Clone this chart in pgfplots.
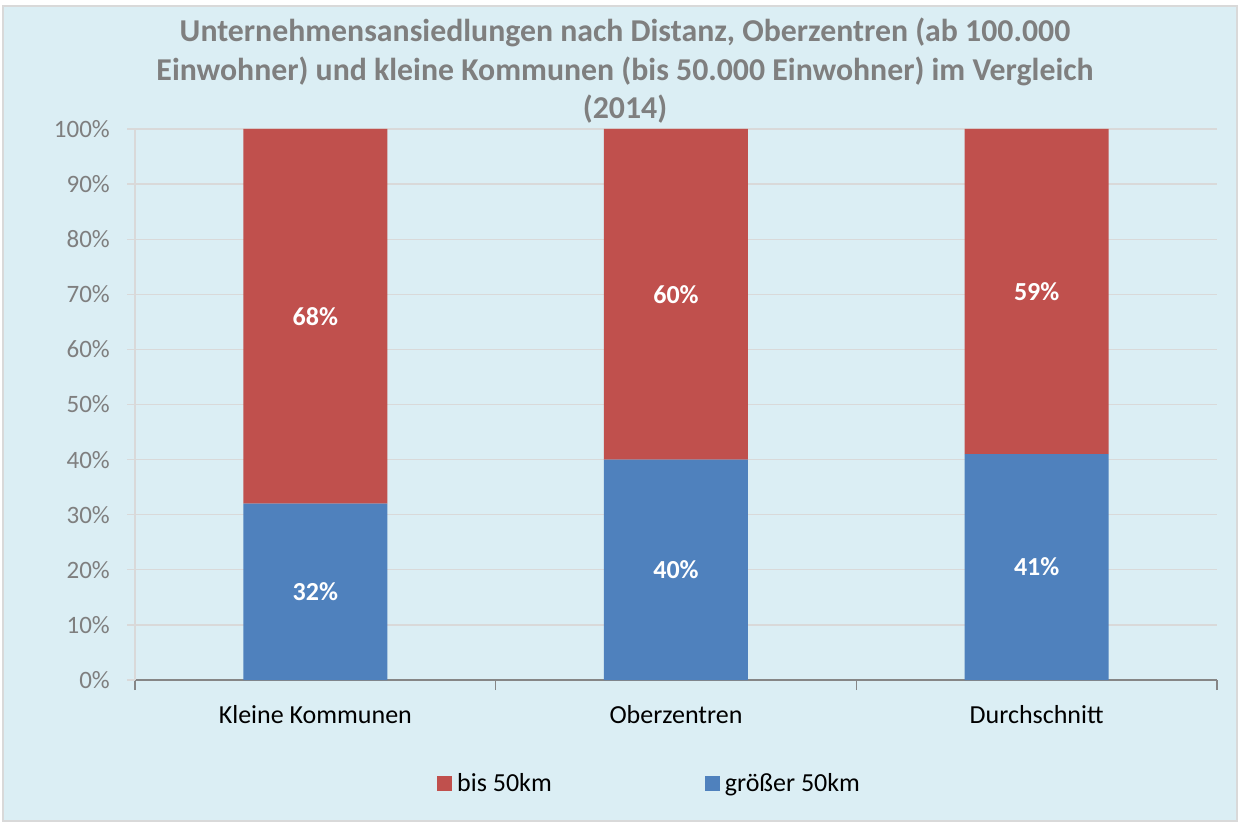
\documentclass[border=0pt]{standalone}
\usepackage{pgfplots}
\pgfplotsset{compat=1.18}
\usepackage{pgfplotstable}
\usepackage{fontspec}
\setmainfont{Carlito}
\definecolor{bg}{HTML}{DBEEF4}
\definecolor{redbar}{HTML}{C0504D}
\definecolor{bluebar}{HTML}{4F81BD}
\definecolor{titlegray}{HTML}{7F7F7F}
\definecolor{gridgray}{HTML}{D9D9D9}
\definecolor{axisgray}{HTML}{868686}

\pgfplotstableread{
x near far
0 68 32
1 60 40
2 59 41
}\data

\begin{document}
\begin{tikzpicture}[x=1pt,y=1pt]
\fill[white] (0,0) rectangle (1239,823);
\filldraw[fill=bg, draw=gridgray, line width=2pt] (3,2) rectangle (1237,817);
\node[font=\fontsize{31.8}{38.5}\selectfont\bfseries, text=titlegray, align=center] at (625,752) {Unternehmensansiedlungen nach Distanz, Oberzentren (ab 100.000\\Einwohner) und kleine Kommunen (bis 50.000 Einwohner) im Vergleich\\(2014)};
\begin{axis}[
  at={(135pt,143pt)}, anchor=south west,
  scale only axis, width=1082pt, height=551pt,
  ybar stacked, bar width=144pt,
  xmin=-0.5, xmax=2.5, ymin=0, ymax=100,
  xtick={0,1,2}, xticklabels={Kleine Kommunen, Oberzentren, Durchschnitt},
  major x tick style={draw=none},
  minor xtick={-0.5,0.5,1.5,2.5},
  minor x tick style={axisgray, line width=1.2pt},
  ytick={0,10,...,100},
  y tick style={gridgray, line width=1.2pt},
  tick align=outside,
  major tick length=8pt, minor tick length=10pt,
  axis lines*=left,
  separate axis lines,
  x axis line style={axisgray, line width=1.2pt},
  y axis line style={gridgray, line width=1.2pt},
  ymajorgrids, grid style={gridgray, line width=1.2pt},
  /pgf/number format/assume math mode=true,
  yticklabel={\pgfmathprintnumber{\tick}\%},
  yticklabel style={font=\fontsize{25}{30}\selectfont, text=titlegray, inner sep=0pt, xshift=-17pt},
  xticklabel style={font=\fontsize{26}{30}\selectfont, text=black, yshift=-14pt},
  legend style={at={(0.477,-0.187)}, anchor=center, draw=none, fill=none, legend columns=2, font=\fontsize{26}{30}\selectfont, /tikz/every even column/.append style={column sep=148pt}, nodes={inner xsep=5pt}},
  legend image code/.code={\fill[#1] (0pt,-7.5pt) rectangle (15pt,7.5pt);},
  reverse legend,
]
\addplot[fill=bluebar, draw=none] table[x=x, y=far] {\data};
\addplot[fill=redbar, draw=none] table[x=x, y=near] {\data};
\legend{größer 50km, bis 50km}
\end{axis}
\begin{axis}[
  at={(135pt,143pt)}, anchor=south west,
  scale only axis, width=1082pt, height=551pt,
  xmin=-0.5, xmax=2.5, ymin=0, ymax=100,
  hide axis,
  /pgf/number format/assume math mode=true,
  nodes near coords={\pgfmathprintnumber{\pgfplotspointmeta}\%},
  every node near coord/.append style={font=\fontsize{26}{30}\selectfont\bfseries, text=white, anchor=center},
]
\addplot[draw=none, mark=none, point meta=\thisrow{far}] table[x=x, y expr=\thisrow{far}/2] {\data};
\addplot[draw=none, mark=none, point meta=\thisrow{near}] table[x=x, y expr=\thisrow{far}+\thisrow{near}/2] {\data};
\end{axis}
\pgfresetboundingbox
\useasboundingbox (0,0) rectangle (1239,823);
\end{tikzpicture}
\end{document}
